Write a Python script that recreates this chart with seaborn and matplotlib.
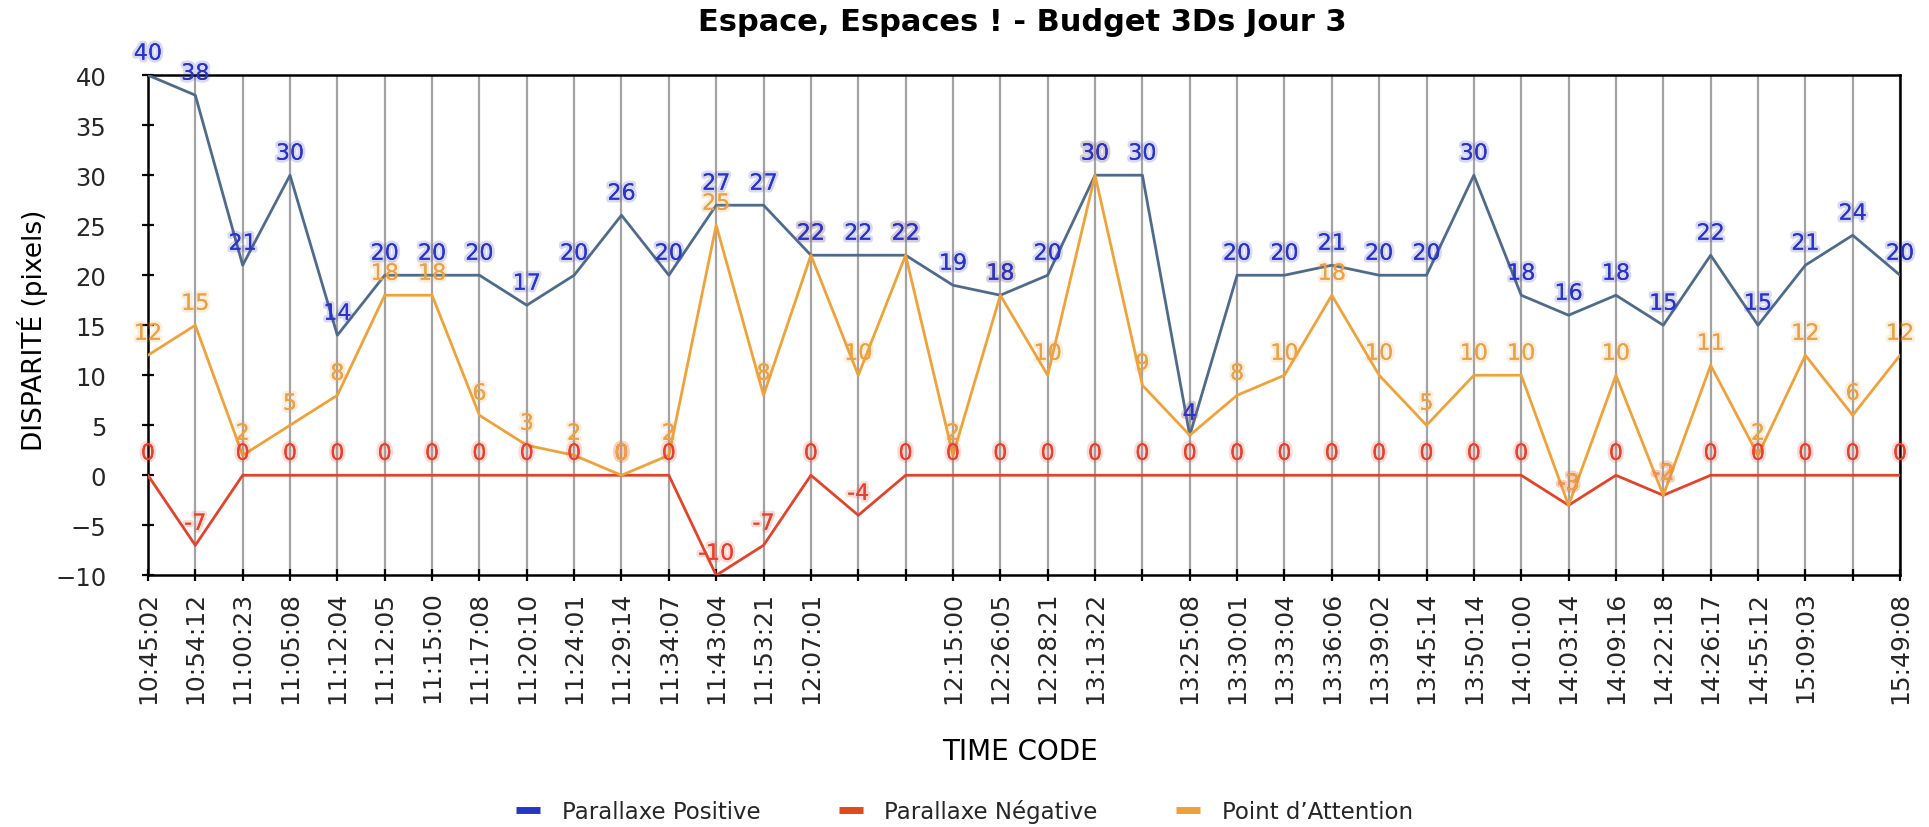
import matplotlib
matplotlib.use("Agg")
import matplotlib.pyplot as plt
import matplotlib.patheffects as pe
from matplotlib.lines import Line2D
import seaborn as sns
import pandas as pd

# Time codes of the shots (some slots carry no label)
time_codes = ["10:45:02", "10:54:12", "11:00:23", "11:05:08", "11:12:04", "11:12:05",
              "11:15:00", "11:17:08", "11:20:10", "11:24:01", "11:29:14", "11:34:07",
              "11:43:04", "11:53:21", "12:07:01", "", "", "12:15:00", "12:26:05",
              "12:28:21", "13:13:22", "", "13:25:08", "13:30:01", "13:33:04", "13:36:06",
              "13:39:02", "13:45:14", "13:50:14", "14:01:00", "14:03:14", "14:09:16",
              "14:22:18", "14:26:17", "14:55:12", "15:09:03", "", "15:49:08"]

parallaxe_positive = [40, 38, 21, 30, 14, 20, 20, 20, 17, 20, 26, 20, 27, 27, 22, 22, 22, 19,
                      18, 20, 30, 30, 4, 20, 20, 21, 20, 20, 30, 18, 16, 18, 15, 22, 15, 21,
                      24, 20]
parallaxe_negative = [0, -7, 0, 0, 0, 0, 0, 0, 0, 0, 0, 0, -10, -7, 0, -4, 0, 0, 0, 0, 0, 0,
                      0, 0, 0, 0, 0, 0, 0, 0, -3, 0, -2, 0, 0, 0, 0, 0]
point_attention = [12, 15, 2, 5, 8, 18, 18, 6, 3, 2, 0, 2, 25, 8, 22, 10, 22, 2, 18, 10, 30,
                   9, 4, 8, 10, 18, 10, 5, 10, 10, -3, 10, -2, 11, 2, 12, 6, 12]

series_names = ["Parallaxe Positive", "Parallaxe Négative", "Point d\u2019Attention"]
line_colors = ["#4f6b8c", "#e2432a", "#f0a23a"]
label_colors = ["#2b34c9", "#e8402c", "#eba247"]
legend_colors = ["#2438c4", "#e0481f", "#eda03a"]

idx = list(range(len(time_codes)))
frames = []
for name, vals in zip(series_names, [parallaxe_positive, parallaxe_negative, point_attention]):
    frames.append(pd.DataFrame({"pos": idx, "value": vals, "serie": name}))
df = pd.concat(frames, ignore_index=True)

sns.set_theme(style="white")
plt.rcParams["font.family"] = ["DejaVu Sans"]

fig = plt.figure(figsize=(19.29, 8.28), dpi=100)
ax = fig.add_axes([0.0767, 0.304, 0.9083, 0.604])

# vertical guide at every time code
for x in idx:
    ax.axvline(x, color="#a3a3a3", lw=1.6, zorder=0)

sns.lineplot(data=df, x="pos", y="value", hue="serie", hue_order=series_names,
             palette=dict(zip(series_names, line_colors)), linewidth=2.0,
             legend=False, ax=ax, sort=False, zorder=3)

# value labels above each point (blue ones drawn last, on top)
for vals, col in [(parallaxe_negative, label_colors[1]),
                  (point_attention, label_colors[2]),
                  (parallaxe_positive, label_colors[0])]:
    for x, v in zip(idx, vals):
        ax.annotate(str(v), (x, v), xytext=(0, 15.5), textcoords="offset points",
                    ha="center", va="center", fontsize=16, color=col, zorder=5,
                    annotation_clip=False,
                    path_effects=[pe.withStroke(linewidth=4, foreground=col, alpha=0.18),
                                  pe.Normal()])

ax.set_xlim(0, len(time_codes) - 1)
ax.set_ylim(-10, 40)
ax.set_yticks(range(-10, 41, 5))
ax.set_xticks(idx)
ax.set_xticklabels(time_codes, rotation=90, fontsize=18)
ax.tick_params(axis="y", labelsize=17.5)
ax.tick_params(axis="both", direction="inout", length=8, width=1.6, color="black",
               bottom=True, left=True)
ax.tick_params(axis="y", pad=26)
ax.tick_params(axis="x", pad=7)
for s in ax.spines.values():
    s.set_color("black")
    s.set_linewidth(1.8)
ax.grid(False)
ax.set_xlabel("")
ax.set_ylabel("")

fig.text(0.530, 0.973, "Espace, Espaces ! - Budget 3Ds Jour 3", ha="center", va="center",
         fontsize=22, fontweight="bold", color="black")
fig.text(0.0166, 0.601, "DISPARITÉ (pixels)", rotation=90, ha="center", va="center",
         fontsize=19, color="black")
fig.text(0.529, 0.092, "TIME CODE", ha="center", va="center", fontsize=20, color="black")

handles = [Line2D([0], [0], color=c, lw=5, solid_capstyle="butt") for c in legend_colors]
fig.legend(handles, series_names, loc="center", bbox_to_anchor=(0.500, 0.019), ncol=3,
           frameon=False, fontsize=16.5, handlelength=1.05, handletextpad=0.95,
           columnspacing=3.4)

fig.savefig("out.png", dpi=100)
